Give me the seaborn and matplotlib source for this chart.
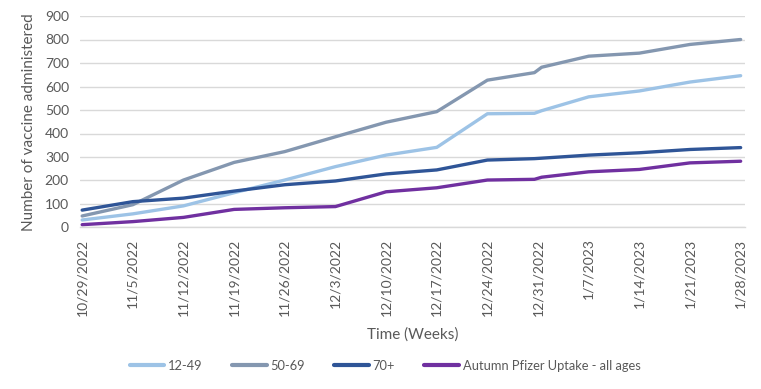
import matplotlib
matplotlib.use("Agg")
import matplotlib.pyplot as plt
import seaborn as sns
import pandas as pd

# ---- data ----
days = [0, 7, 14, 21, 28, 35, 42, 49, 56, 62.5, 63.5, 70, 77, 84, 91]
s_12_49 = [32, 58, 92, 148, 202, 259, 308, 341, 484, 486, 497, 556, 581, 619, 646]
s_50_69 = [49, 97, 202, 277, 323, 386, 448, 493, 627, 659, 682, 729, 742, 779, 800]
s_70 = [74, 110, 125, 155, 182, 198, 228, 245, 287, 293, 295, 308, 318, 332, 340]
s_all = [12, 25, 43, 77, 84, 89, 152, 169, 202, 205, 214, 237, 247, 275, 282]

series_names = ["12-49", "50-69", "70+", "Autumn Pfizer Uptake - all ages"]
series_values = [s_12_49, s_50_69, s_70, s_all]
colors = ["#9DC3E6", "#8497B0", "#2F5597", "#7030A0"]

tick_labels = ["10/29/2022", "11/5/2022", "11/12/2022", "11/19/2022", "11/26/2022",
               "12/3/2022", "12/10/2022", "12/17/2022", "12/24/2022", "12/31/2022",
               "1/7/2023", "1/14/2023", "1/21/2023", "1/28/2023"]
y_ticks = [0, 100, 200, 300, 400, 500, 600, 700, 800, 900]

rows = []
for name, vals in zip(series_names, series_values):
    for d, v in zip(days, vals):
        rows.append({"day": d, "value": v, "series": name})
df = pd.DataFrame(rows)

sns.set_theme(style="white")
plt.rcParams["font.family"] = ["Lato", "DejaVu Sans"]
text_color = "#595959"

fig = plt.figure(figsize=(7.61, 3.89), dpi=100)
ax = fig.add_axes([80 / 761, 1 - 227.5 / 389, (745 - 80) / 761, (227.5 - 16) / 389])

sns.lineplot(data=df, x="day", y="value", hue="series", hue_order=series_names,
             palette=dict(zip(series_names, colors)), linewidth=2.4, ax=ax,
             solid_capstyle="round", sort=False)

handles, labels = ax.get_legend_handles_labels()
ax.get_legend().remove()

ax.set_xlim(-0.3, 91.6)
ax.set_ylim(0, 900)
ax.set_yticks(y_ticks)
ax.set_xticks([7 * i for i in range(len(tick_labels))])
ax.set_xticklabels(tick_labels, rotation=90)
ax.tick_params(axis="both", length=0, labelsize=10, labelcolor=text_color, pad=8)

ax.yaxis.grid(True, color="#D9D9D9", linewidth=1)
ax.xaxis.grid(False)
for s in ["top", "right", "left"]:
    ax.spines[s].set_visible(False)
ax.spines["bottom"].set_color("#D9D9D9")
ax.spines["bottom"].set_linewidth(1)
ax.set_axisbelow(True)

ax.set_xlabel("Time (Weeks)", fontsize=11, color=text_color, labelpad=8)
ax.set_ylabel("Number of vaccine administered", fontsize=11, color=text_color, labelpad=6)

leg = fig.legend(handles, labels, loc="center", bbox_to_anchor=(385 / 761, 1 - 366 / 389),
                 ncol=4, frameon=False, fontsize=9.3, handlelength=2.7,
                 columnspacing=2.3, handletextpad=0.25)
for t in leg.get_texts():
    t.set_color(text_color)
for h in leg.legend_handles:
    h.set_linewidth(3)

fig.savefig("out.png", dpi=100)
